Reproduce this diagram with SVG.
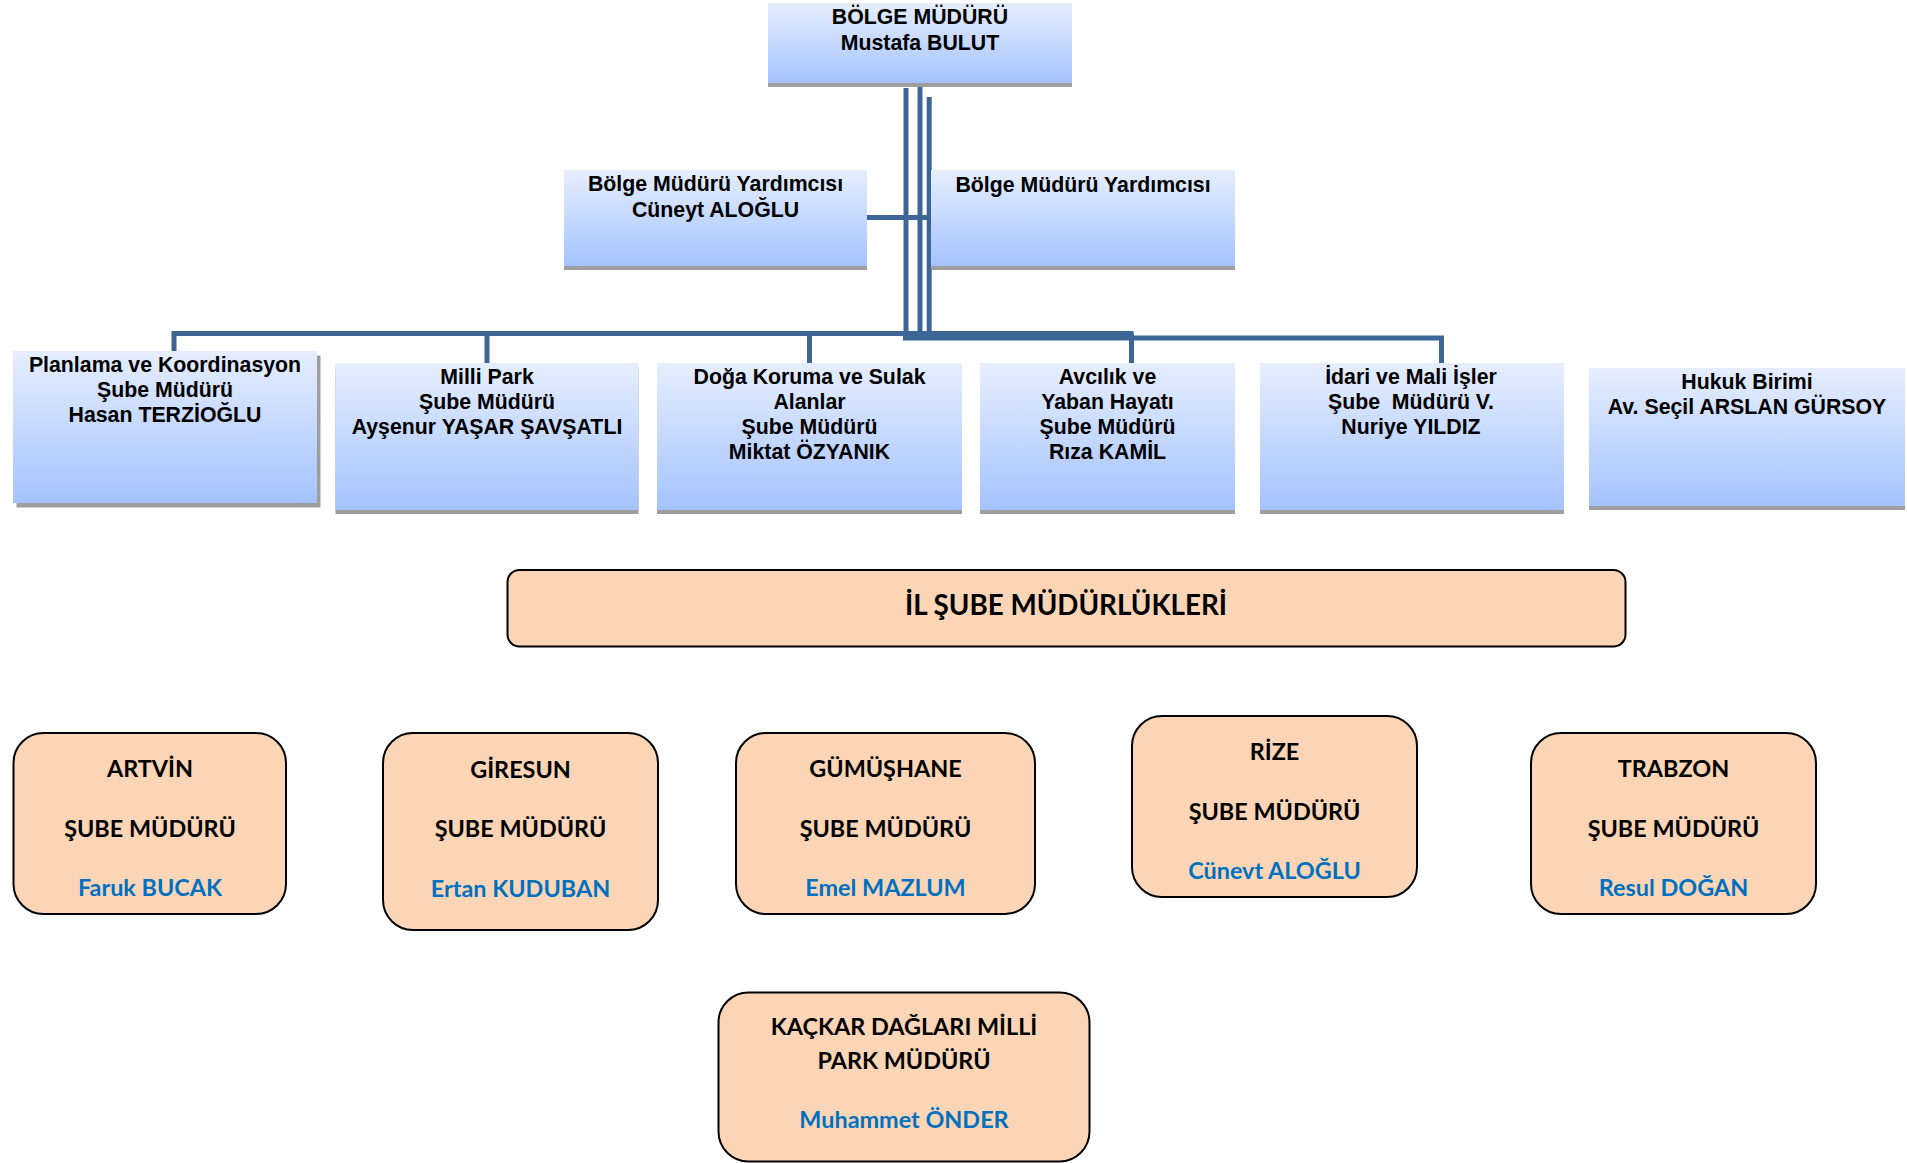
<svg xmlns="http://www.w3.org/2000/svg" width="1907" height="1163" viewBox="0 0 1907 1163">
<defs>
<linearGradient id="blueGrad" x1="0" y1="0" x2="0" y2="1">
<stop offset="0" stop-color="#E6EEFE"/>
<stop offset="1" stop-color="#A4C3FE"/>
</linearGradient>
<style>
.box{fill:url(#blueGrad);}
.shadow{fill:#9E9E9E;}
.bt{font-family:"Liberation Sans",Arial,sans-serif;font-weight:bold;font-size:21.3px;fill:#000;text-anchor:middle;}
.peach{fill:#FBD5B5;stroke:#000;stroke-width:2;}
.ct{font-family:Lato,"Open Sans",sans-serif;font-weight:bold;font-size:23.4px;fill:#000;text-anchor:middle;}
.cn{font-family:Lato,"Open Sans",sans-serif;font-weight:bold;font-size:23.4px;fill:#0070C0;text-anchor:middle;}
.big{font-size:27.8px;}
.conn{stroke:#3D6697;stroke-width:5;fill:none;}
</style>
</defs>
<rect width="1907" height="1163" fill="#FFFFFF"/>

<g id="connectors">
<line class="conn" x1="906" y1="88" x2="906" y2="336"/>
<line class="conn" x1="920" y1="83" x2="920" y2="336"/>
<line class="conn" x1="929.2" y1="97" x2="929.2" y2="336"/>
<line class="conn" x1="867" y1="217.5" x2="931" y2="217.5"/>
<polyline class="conn" points="174,351 174,333.5 1133.5,333.5"/>
<line class="conn" x1="487" y1="333.5" x2="487" y2="363"/>
<line class="conn" x1="809.5" y1="333.5" x2="809.5" y2="363"/>
<line class="conn" x1="1131.5" y1="333.5" x2="1131.5" y2="363"/>
<polyline class="conn" points="903,338 1441.5,338 1441.5,363"/>
</g>

<g id="bolge-muduru">
<rect class="shadow" x="768" y="7" width="304" height="80"/>
<rect class="box" x="768" y="3" width="304" height="80"/>
<text class="bt" x="920" y="24">BÖLGE MÜDÜRÜ</text>
<text class="bt" x="920" y="50">Mustafa BULUT</text>
</g>

<g id="yardimci-1">
<rect class="shadow" x="564" y="174" width="303" height="96"/>
<rect class="box" x="564" y="170" width="303" height="96"/>
<text class="bt" x="715.5" y="191">Bölge Müdürü Yardımcısı</text>
<text class="bt" x="715.5" y="217">Cüneyt ALOĞLU</text>
</g>

<g id="yardimci-2">
<rect class="shadow" x="931" y="174" width="304" height="96"/>
<rect class="box" x="931" y="170" width="304" height="96"/>
<text class="bt" x="1083" y="191.5">Bölge Müdürü Yardımcısı</text>
</g>

<g id="planlama">
<rect class="shadow" x="16.5" y="355.5" width="304" height="152"/>
<rect class="box" x="13" y="351" width="304" height="152"/>
<text class="bt" x="165" y="372">Planlama ve Koordinasyon</text>
<text class="bt" x="165" y="397">Şube Müdürü</text>
<text class="bt" x="165" y="422">Hasan TERZİOĞLU</text>
</g>

<g id="milli-park">
<rect class="shadow" x="335.5" y="367" width="303" height="147"/>
<rect class="box" x="335.5" y="363" width="303" height="147"/>
<text class="bt" x="487" y="383.5">Milli Park</text>
<text class="bt" x="487" y="408.5">Şube Müdürü</text>
<text class="bt" x="487" y="433.5">Ayşenur YAŞAR ŞAVŞATLI</text>
</g>

<g id="doga-koruma">
<rect class="shadow" x="657" y="367" width="305" height="147"/>
<rect class="box" x="657" y="363" width="305" height="147"/>
<text class="bt" x="809.5" y="383.5">Doğa Koruma ve Sulak</text>
<text class="bt" x="809.5" y="408.5">Alanlar</text>
<text class="bt" x="809.5" y="433.5">Şube Müdürü</text>
<text class="bt" x="809.5" y="458.5">Miktat ÖZYANIK</text>
</g>

<g id="avcilik">
<rect class="shadow" x="980" y="367" width="255" height="147"/>
<rect class="box" x="980" y="363" width="255" height="147"/>
<text class="bt" x="1107.5" y="383.5">Avcılık ve</text>
<text class="bt" x="1107.5" y="408.5">Yaban Hayatı</text>
<text class="bt" x="1107.5" y="433.5">Şube Müdürü</text>
<text class="bt" x="1107.5" y="458.5">Rıza KAMİL</text>
</g>

<g id="idari-mali">
<rect class="shadow" x="1260" y="367" width="304" height="147"/>
<rect class="box" x="1260" y="363" width="304" height="147"/>
<text class="bt" x="1411" y="383.5">İdari ve Mali İşler</text>
<text class="bt" x="1411" y="408.5" style="white-space:pre">Şube  Müdürü V.</text>
<text class="bt" x="1411" y="433.5">Nuriye YILDIZ</text>
</g>

<g id="hukuk">
<rect class="shadow" x="1589" y="372" width="316" height="138"/>
<rect class="box" x="1589" y="368" width="316" height="138"/>
<text class="bt" x="1747" y="388.5">Hukuk Birimi</text>
<text class="bt" x="1747" y="413.5">Av. Seçil ARSLAN GÜRSOY</text>
</g>

<g id="il-sube">
<rect class="peach" x="507.5" y="570" width="1118" height="76.5" rx="12"/>
<text class="ct big" x="1066" y="615">İL ŞUBE MÜDÜRLÜKLERİ</text>
</g>

<g id="artvin">
<rect class="peach" x="13.5" y="733" width="272.5" height="181" rx="30"/>
<text class="ct" x="150" y="777">ARTVİN</text>
<text class="ct" x="150" y="837">ŞUBE MÜDÜRÜ</text>
<text class="cn" x="150" y="896">Faruk BUCAK</text>
</g>

<g id="giresun">
<rect class="peach" x="383" y="733" width="275" height="197" rx="30"/>
<text class="ct" x="520.5" y="777.5">GİRESUN</text>
<text class="ct" x="520.5" y="837">ŞUBE MÜDÜRÜ</text>
<text class="cn" x="520.5" y="897">Ertan KUDUBAN</text>
</g>

<g id="gumushane">
<rect class="peach" x="736" y="733" width="299" height="181" rx="30"/>
<text class="ct" x="885.5" y="777">GÜMÜŞHANE</text>
<text class="ct" x="885.5" y="837">ŞUBE MÜDÜRÜ</text>
<text class="cn" x="885.5" y="896">Emel MAZLUM</text>
</g>

<g id="rize">
<rect class="peach" x="1132" y="716" width="285" height="181" rx="30"/>
<text class="ct" x="1274.5" y="760">RİZE</text>
<text class="ct" x="1274.5" y="819.5">ŞUBE MÜDÜRÜ</text>
<text class="cn" x="1274.5" y="878.5">Cünevt ALOĞLU</text>
</g>

<g id="trabzon">
<rect class="peach" x="1531" y="733" width="285" height="181" rx="30"/>
<text class="ct" x="1673.5" y="777">TRABZON</text>
<text class="ct" x="1673.5" y="837">ŞUBE MÜDÜRÜ</text>
<text class="cn" x="1673.5" y="896">Resul DOĞAN</text>
</g>

<g id="kackar">
<rect class="peach" x="718.5" y="992.5" width="371" height="169" rx="30"/>
<text class="ct" x="904" y="1035">KAÇKAR DAĞLARI MİLLİ</text>
<text class="ct" x="904" y="1069">PARK MÜDÜRÜ</text>
<text class="cn" x="904" y="1128">Muhammet ÖNDER</text>
</g>
</svg>
